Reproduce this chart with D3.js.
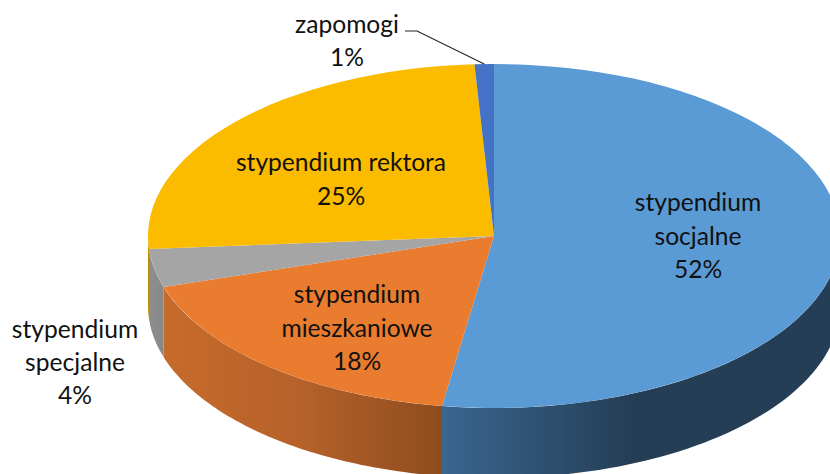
<!DOCTYPE html>
<html>
<head>
<meta charset="utf-8">
<script src="https://cdn.jsdelivr.net/npm/d3@7"></script>
<style>
  html, body { margin: 0; padding: 0; background: #fff; overflow: hidden; }
  text { font-family: Lato, "Open Sans", sans-serif; font-size: 24.6px; fill: #111; text-anchor: middle; }
</style>
</head>
<body>
<div id="chart"></div>
<script>
// data
const categories = ["stypendium socjalne", "stypendium mieszkaniowe", "stypendium specjalne", "stypendium rektora", "zapomogi"];
const shares = [52.4, 17.8, 3.6, 25.3, 0.9];
const labelLines = [["stypendium", "socjalne"], ["stypendium", "mieszkaniowe"], ["stypendium", "specjalne"], ["stypendium rektora"], ["zapomogi"]];

// colours of the top face, and of the side wall (left to right, evenly spaced)
const topColors = ["#5b9bd5", "#ea7c30", "#a5a5a5", "#fbbc00", "#4472c4"];
const wallStops = [["#3a6690", "#243e55"], ["#c66b2b", "#b5612a", "#8e4c1e"], ["#8e8e8e", "#888888"], ["#c09000", "#c09000"], ["#33558f", "#33558f"]];

// where each label goes (centre x, first baseline y, line step)
const labelLayout = [
  { x: 698, y: 211, step: 33.5 },
  { x: 357, y: 303, step: 33.5 },
  { x: 75, y: 338, step: 33 },
  { x: 341, y: 171, step: 33.5 },
  { x: 347, y: 33, step: 33 }
];

const width = 830, height = 474;
const cx = 494, cy = 236, rx = 346, ry = 172, depth = 70;

const svg = d3.select("#chart").append("svg")
  .attr("width", width)
  .attr("height", height);

const defs = svg.append("defs");

const pie = d3.pie().sort(null).value(d => d);
const arcs = pie(shares);
const total = d3.sum(shares);

// point on the top ellipse for a pie angle (0 = up, clockwise)
function px(a) { return cx + rx * Math.sin(a); }
function py(a) { return cy - ry * Math.cos(a); }

// side walls, only the part facing the viewer (90deg..270deg)
const wallGroup = svg.append("g");
arcs.forEach(function (d, i) {
  const a0 = Math.max(d.startAngle, Math.PI / 2);
  const a1 = Math.min(d.endAngle, 3 * Math.PI / 2);
  if (a1 <= a0) return;

  const grad = defs.append("linearGradient")
    .attr("id", "wall" + i)
    .attr("gradientUnits", "userSpaceOnUse")
    .attr("x1", Math.min(px(a0), px(a1)))
    .attr("x2", Math.max(px(a0), px(a1)))
    .attr("y1", 0).attr("y2", 0);

  if (i === 0) {
    // blue wall: gets dark quickly going right, then stays flat
    grad.attr("x1", px(a1)).attr("x2", px(a1) + 190);
  }
  wallStops[i].forEach(function (c, k) {
    grad.append("stop")
      .attr("offset", k / (wallStops[i].length - 1))
      .attr("stop-color", c);
  });

  const steps = d3.range(0, 61).map(k => a0 + (a1 - a0) * k / 60);
  const top = steps.map(a => [px(a), py(a)]);
  const bottom = steps.slice().reverse().map(a => [px(a), py(a) + depth]);

  wallGroup.append("path")
    .attr("d", d3.line()(top.concat(bottom)) + "Z")
    .attr("fill", "url(#wall" + i + ")");
});

// top faces, d3.arc squashed into an ellipse
const arc = d3.arc().innerRadius(0).outerRadius(rx);
svg.append("g")
  .attr("transform", "translate(" + cx + "," + cy + ") scale(1," + (ry / rx) + ")")
  .selectAll("path")
  .data(arcs)
  .enter()
  .append("path")
  .attr("d", arc)
  .attr("fill", (d, i) => topColors[i]);

// leader line of the small slice
const small = arcs[4];
const midSmall = (small.startAngle + small.endAngle) / 2;
svg.append("path")
  .attr("d", d3.line()([[405, 31], [417, 31], [px(midSmall), py(midSmall)]]))
  .attr("fill", "none")
  .attr("stroke", "#222")
  .attr("stroke-width", 1.1);

// labels
svg.append("g")
  .selectAll("text")
  .data(categories)
  .enter()
  .append("text")
  .attr("y", (d, i) => labelLayout[i].y)
  .each(function (d, i) {
    const lines = labelLines[i].concat([d3.format(".0f")(shares[i] / total * 100) + "%"]);
    d3.select(this).selectAll("tspan")
      .data(lines)
      .enter()
      .append("tspan")
      .attr("x", labelLayout[i].x)
      .attr("dy", (l, k) => (k === 0 ? 0 : labelLayout[i].step))
      .text(l => l);
  });
</script>
</body>
</html>
